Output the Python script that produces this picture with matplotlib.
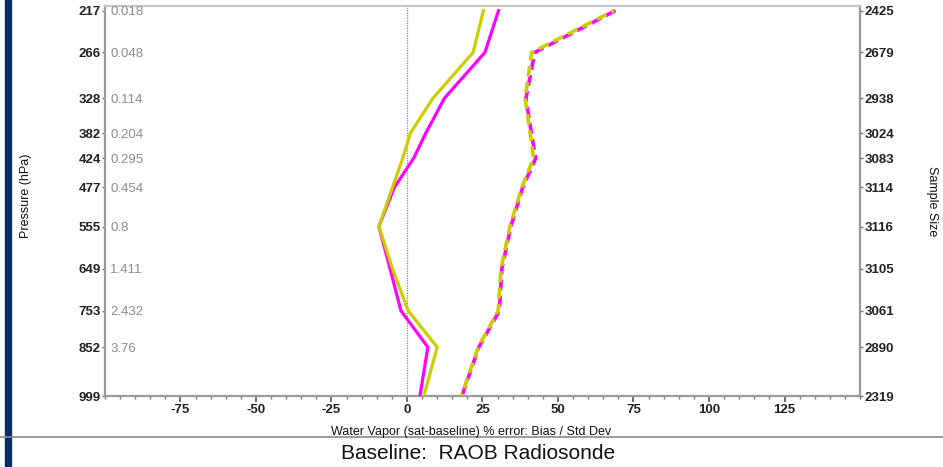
import matplotlib.pyplot as plt
import matplotlib.transforms as mtransforms
from matplotlib.ticker import FixedLocator, MultipleLocator
from matplotlib.patches import Rectangle
from matplotlib.lines import Line2D

plt.rcParams['font.family'] = ['Liberation Sans', 'DejaVu Sans']
plt.rcParams['axes.unicode_minus'] = False

# pressure levels (hPa) and side labels
pressure = [217, 266, 328, 382, 424, 477, 555, 649, 753, 852, 999]
mixing_ratio = ["0.018", "0.048", "0.114", "0.204", "0.295", "0.454", "0.8",
                "1.411", "2.432", "3.76", ""]
sample_size = [2425, 2679, 2938, 3024, 3083, 3114, 3116, 3105, 3061, 2890, 2319]

# % error values
bias_yellow = [25.3, 21.9, 8.6, 1.1, -1.4, -4.8, -9.3, -4.8, 0.4, 10.0, 5.6]
bias_magenta = [30.3, 25.8, 12.4, 6.2, 2.2, -4.2, -9.3, -5.6, -2.0, 6.9, 4.3]
std_yellow = [68.5, 41.3, 39.1, 40.8, 41.9, 38.0, 34.1, 31.1, 30.2, 23.6, 18.0]
std_magenta = [69.0, 42.3, 39.4, 41.2, 42.6, 38.3, 34.4, 31.4, 30.6, 23.8, 18.2]

xticks = [-75, -50, -25, 0, 25, 50, 75, 100, 125]

yellow = '#cccc00'
magenta = '#ff00ff'
gray = '#9a9a9a'

fig = plt.figure(figsize=(9.43, 4.67), dpi=100)
ax = fig.add_axes([0.1113, 0.152, 0.8007, 0.835])

fwd = lambda p: p ** 0.3
inv = lambda q: q ** (1 / 0.3)
ax.set_yscale('function', functions=(fwd, inv))

ax.axvline(0, color='#888888', lw=0.9, ls=(0, (1, 1)), zorder=1)

ax.plot(std_magenta, pressure, color=magenta, lw=2.6, ls=(0, (3, 1.5)), zorder=2)
ax.plot(std_yellow, pressure, color=yellow, lw=2.6, ls=(2.2, (3, 1.5)), zorder=3)
ax.plot(bias_magenta, pressure, color=magenta, lw=2.3, zorder=4)
ax.plot(bias_yellow, pressure, color=yellow, lw=2.3, zorder=5)

ax.set_xlim(-100, 150)
ax.set_ylim(999, 212)

ax.yaxis.set_major_locator(FixedLocator(pressure))
ax.yaxis.set_minor_locator(FixedLocator([]))
ax.set_yticklabels([str(p) for p in pressure])
ax.xaxis.set_major_locator(FixedLocator(xticks))
ax.xaxis.set_minor_locator(MultipleLocator(5))

for s in ax.spines.values():
    s.set_color(gray)
    s.set_linewidth(1.6)
ax.spines['top'].set_color('#c8c8c8')

ax.tick_params(axis='x', which='major', length=4, width=1.2, color='#555555',
               labelsize=9.5, pad=1.5, labelcolor='#222222')
ax.tick_params(axis='x', which='minor', length=2.5, width=1, color='#777777')
ax.tick_params(axis='y', which='major', length=2, width=1, color='#777777',
               labelsize=9.5, pad=1, labelcolor='#222222')
for lbl in ax.get_xticklabels() + ax.get_yticklabels():
    lbl.set_fontweight('bold')

trans = mtransforms.blended_transform_factory(ax.transAxes, ax.transData)
for p, m in zip(pressure, mixing_ratio):
    ax.text(0.007, p, m, transform=trans, color='#8c8c8c', fontsize=9.5,
            va='center_baseline', ha='left')

ax2 = ax.twinx()
ax2.set_yscale('function', functions=(fwd, inv))
ax2.set_ylim(999, 212)
ax2.yaxis.set_major_locator(FixedLocator(pressure))
ax2.yaxis.set_minor_locator(FixedLocator([]))
ax2.set_yticklabels([str(n) for n in sample_size])
ax2.tick_params(axis='y', length=2, width=1, color='#777777', labelsize=9.5,
                pad=1, labelcolor='#222222')
for lbl in ax2.get_yticklabels():
    lbl.set_fontweight('bold')
for s in ax2.spines.values():
    s.set_visible(False)

fig.text(0.028, 0.58, 'Pressure (hPa)', rotation=90, ha='center', va='center',
         fontsize=9, color='#111111')
fig.text(0.988, 0.57, 'Sample Size', rotation=270, ha='center', va='center',
         fontsize=9, color='#111111')
fig.text(0.5, 0.074, 'Water Vapor (sat-baseline) % error: Bias / Std Dev',
         ha='center', va='center', fontsize=9, color='#111111')
fig.text(0.507, 0.028, 'Baseline:  RAOB Radiosonde', ha='center', va='center',
         fontsize=15, color='#111111')

# slide decoration: blue strip on the left and separator line
fig.add_artist(Rectangle((0.005, 0), 0.0065, 1, transform=fig.transFigure,
                         color='#0b2c6b', zorder=0))
fig.add_artist(Line2D([0, 1], [0.064, 0.064], transform=fig.transFigure,
                      color='#8a8a8a', lw=1.2))

fig.savefig('out.png', dpi=100)
